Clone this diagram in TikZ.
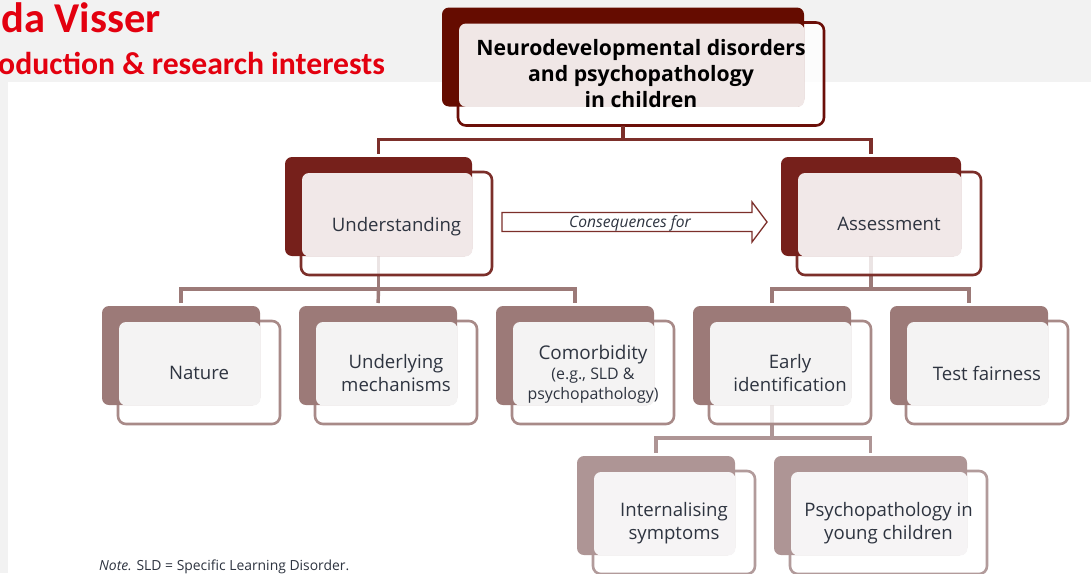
\documentclass[tikz,border=0pt]{standalone}
\usepackage{fontspec}
\setmainfont{Open Sans}
\newfontfamily\titlefont{Carlito}
\usetikzlibrary{calc}
\definecolor{bandgray}{HTML}{F2F2F2}
\definecolor{titlered}{HTML}{E3000F}
\definecolor{inkdark}{HTML}{2E3440}
\definecolor{backA}{HTML}{650C00}\definecolor{lineA}{HTML}{6B0E08}\definecolor{tintA}{HTML}{F0E7E6}
\definecolor{backB}{HTML}{76201B}\definecolor{lineB}{HTML}{7C2F2A}\definecolor{tintB}{HTML}{F1E8E8}
\definecolor{backC}{HTML}{9C7A78}\definecolor{lineC}{HTML}{A88A88}\definecolor{tintC}{HTML}{F4F3F3}
\definecolor{backD}{HTML}{AE9595}\definecolor{lineD}{HTML}{B29B9B}\definecolor{tintD}{HTML}{F6F4F5}
\tikzset{
  x=1pt,y=-1pt,
  backbox/.style={rectangle,rounded corners=7pt,inner sep=0pt,outer sep=0pt},
  frontbox/.style={rectangle,rounded corners=8pt,inner sep=0pt,outer sep=0pt,line width=2.6pt},
  cardtext/.style={align=center,inner sep=0pt,font=\fontsize{18.6}{23}\selectfont,text=inkdark},
  linkA/.style={draw=lineB,line width=3.4pt},
  linkC/.style={draw=backC,line width=3.4pt},
  linkD/.style={draw=backD,line width=3.4pt},
}
% name, left, top of the back card, width, height, colour letter, label
\newcommand{\cardback}[7]{%
  \node[backbox,anchor=north west,minimum width=#4pt,minimum height=#5pt] (#1b) at (#2,#3) {};
}
\newcommand{\cardfront}[7]{%
  \pgfmathsetmacro{\fw}{#4+4}\pgfmathsetmacro{\fh}{#5+4}%
  \node[frontbox,anchor=north west,minimum width=\fw pt,minimum height=\fh pt,draw=line#6,fill=white,fill opacity=.8] (#1f) at ($(#2,#3)+(16,15)$) {};
  \node[backbox,fill=back#6,anchor=north west,minimum width=#4pt,minimum height=#5pt] at (#1b.north west) {};
  \fill[tint#6,rounded corners=7pt] ($(#1f.north west)+(1,1)$) rectangle ($(#1b.south east)+(.4,.4)$);
  \node[cardtext] (#1t) at ($(#1f.center)+(0,.6)$) {#7};
}
\begin{document}
\begin{tikzpicture}
\useasboundingbox (0,0) rectangle (1091,573);
\clip (0,0) rectangle (1091,573);
\fill[bandgray] (0,0) rectangle (1091,573);
\fill[white] (8,82) rectangle (1091,573);
\node[anchor=base west,inner sep=0pt,text=titlered,font=\titlefont\bfseries\fontsize{42.5}{42}\selectfont] (title) at (1,32.5) {da Visser};
\node[anchor=base west,inner sep=0pt,text=titlered,font=\titlefont\bfseries\fontsize{31.7}{32}\selectfont] (subtitle) at (-2,74) {oduction \& research interests};
\node[anchor=base west,inner sep=0pt,text=inkdark,font=\fontsize{13.9}{16}\selectfont] (note) at (99,570) {\textit{Note.} SLD = Specific Learning Disorder.};

\def\allcards#1{%
  #1{top}{442}{7.5}{362}{99}{A}{}
  #1{und}{285}{157}{187}{99}{B}{\raisebox{0pt}[\height][0pt]{Understanding}}
  #1{ass}{781}{157}{180}{99}{B}{Assessment}
  #1{nat}{102}{306}{158}{99}{C}{Nature}
  #1{mec}{299}{306}{158}{99}{C}{Underlying\\mechanisms}
  #1{com}{496}{306}{158}{99}{C}{}
  #1{ear}{693}{306}{158}{99}{C}{Early\\identification}
  #1{fai}{890}{306}{158}{99}{C}{Test fairness}
  #1{int}{577}{456}{158}{99}{D}{Internalising\\symptoms}
  #1{psy}{774}{456}{193}{99}{D}{Psychopathology in\\young children}
}
\allcards\cardback

% connectors
\coordinate (topbus) at ($(topb.south)+(0,33)$);
\draw[linkC,shorten >=3pt] (undb.south) -- ++(0,33) coordinate (undbus) -| (natb.north);
\draw[linkC,shorten >=3pt] (undbus) -| (comb.north);
\draw[linkC,shorten >=3pt] (undbus) -- (mecb.north);
\draw[linkC,shorten >=3pt] (assb.south) -- ++(0,33) coordinate (assbus) -| (earb.north);
\draw[linkC,shorten >=3pt] (assbus) -| (faib.north);
\draw[linkD,shorten >=3pt] (earb.south) -- ++(0,33) coordinate (earbus) -| (intb.north);
\draw[linkD,shorten >=3pt] (earbus) -| (psyb.north);

\allcards\cardfront

\draw[linkA,shorten >=3pt] (topbus |- topf.south) -- (topbus) -| (undb.north);
\draw[linkA,shorten >=3pt] (topbus) -| (assb.north);

% custom labels
\node[align=center,inner sep=0pt,text=black,font=\bfseries\fontsize{21.2}{26}\selectfont] (toplabel) at (topf.center)
  {Neurodevelopmental disorders\\and psychopathology\\in children};
\node[align=center,inner sep=0pt,text=inkdark,font=\fontsize{15.9}{20}\selectfont] (comlabel) at ($(comf.center)+(0,1.6)$)
  {{\fontsize{18.9}{22}\selectfont Comorbidity}\\(e.g., SLD \&\\psychopathology)};

% block arrow
\coordinate (tail) at (502,222);
\draw[draw=lineB,line width=1.3pt,fill=white,line join=miter]
  ($(tail)+(0,-9.5)$) -- ($(tail)+(250,-9.5)$) -- ($(tail)+(250,-20)$) -- ($(tail)+(265,0)$)
  -- ($(tail)+(250,20)$) -- ($(tail)+(250,9.5)$) -- ($(tail)+(0,9.5)$) -- cycle;
\node[inner sep=0pt,text=inkdark,font=\itshape\fontsize{15.6}{18}\selectfont] (conslabel) at (630,223) {Consequences for};
\end{tikzpicture}
\end{document}
